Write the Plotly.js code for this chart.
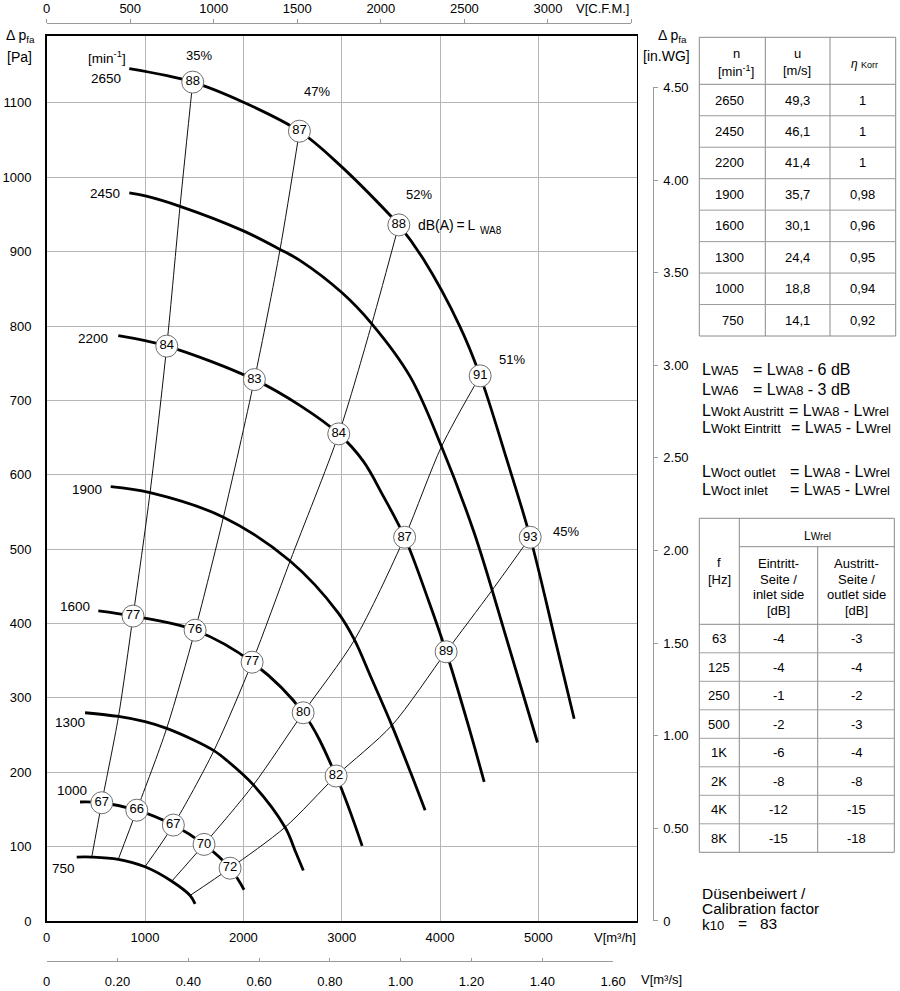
<!DOCTYPE html>
<html><head><meta charset="utf-8">
<script src="https://cdn.plot.ly/plotly-3.0.1.min.js"></script>
<style>html,body{margin:0;padding:0;background:#fff}#chart{width:900px;height:991px}</style>
</head><body><div id="chart"></div>
<script>
// ================= DATA =================
// Fan curves: volume flow V [m3/h] and pressure dp_fa [Pa] per speed n [min-1]
const speeds = ['2650','2450','2200','1900','1600','1300','1000','750'];
const v2650 = [840,1485,2000,2570,2984,3492,3581,3830,4200,4408,4680,4917,5171,5364];
const p2650 = [1146,1128,1101,1062,1016,949,936,890,800,733,620,516,378,272];
const v2450 = [840,1003,1356,2000,2373,2578,3001,3306,3696,4015,4347,4680,4991];
const p2450 = [979,975,961,928,903,888,845,803,732,638,522,378,240];
const v2200 = [728,1221,2112,2578,2970,3221,3420,3640,3880,4062,4290,4449];
const p2200 = [787,773,728,693,655,618,572,516,432,362,262,187];
const v1900 = [651,1051,1797,2475,2966,3130,3300,3510,3700,3848];
const p1900 = [584,576,543,484,414,378,327,263,200,149];
const v1600 = [525,878,1509,2089,2608,2943,3208];
const p1600 = [417,410,391,348,280,195,101];
const v1300 = [390,730,1000,1220,1500,1700,1831,2102,2424,2537,2610];
const p1300 = [280,275,268,259,243,229,216,183,126,91,68];
const v1000 = [339,560,916,1288,1600,1865,2007];
const p1000 = [160,159,149,129,103,71,42];
const v750  = [305,458,728,1000,1272,1458,1509];
const p750  = [86,86,83,73,53.5,34.3,23];

// Efficiency (system) lines
const effLabels = ['35%','47%','52%','51%','45%'];
const sys1V = [458,560,730,878,1051,1221,1356,1485];
const sys1P = [86,159,275,410,576,773,961,1128];
const sys2V = [728,916,1220,1509,1797,2112,2373,2570];
const sys2P = [83,149,259,391,543,728,903,1062];
const sys3V = [1000,1288,1700,2089,2475,2970,3306,3581];
const sys3P = [73,129,229,348,484,655,803,936];
const sys4V = [1272,1600,2102,2608,3130,3640,4015,4408];
const sys4P = [53.5,103,183,280,378,516,638,733];
const sys5V = [1458,1865,2424,2943,3510,4062,4525,4917];
const sys5P = [34.3,71,126,195,263,362,444,516];

// Sound power circles dB(A) = L_WA8
const circV  = [1485,2570,3581,4408,4917, 1221,2112,2970,3640,4062, 878,1509,2089,2608,2943, 560,916,1288,1600,1865];
const circP  = [1128,1062,936,733,516, 773,728,655,516,362, 410,391,348,280,195, 159,149,129,103,71];
const circDb = ['88','87','88','91','93','84','83','84','87','89','77','76','77','80','82','67','66','67','70','72'];

// Axis ticks
const vTicks = [0,1000,2000,3000,4000,5000];
const pTicks = [0,100,200,300,400,500,600,700,800,900,1000,1100];
const cfmTicks = [0,500,1000,1500,2000,2500,3000,3500];
const cfmText  = ['0','500','1000','1500','2000','2500','3000',' '];
const m3sTicks = [0,0.2,0.4,0.6,0.8,1.0,1.2,1.4,1.6];
const m3sText  = ['0','0.20','0.40','0.60','0.80','1.00','1.20','1.40','1.60'];
const inwgTicks = [0,0.5,1.0,1.5,2.0,2.5,3.0,3.5,4.0,4.5];
const inwgText  = ['0','0.50','1.00','1.50','2.00','2.50','3.00','3.50','4.00','4.50'];

// Tables
const tblN   = ['2650','2450','2200','1900','1600','1300','1000','750'];
const tblU   = ['49,3','46,1','41,4','35,7','30,1','24,4','18,8','14,1'];
const tblEta = ['1','1','1','0,98','0,96','0,95','0,94','0,92'];
const freqHz   = ['63','125','250','500','1K','2K','4K','8K'];
const lwInlet  = ['-4','-4','-1','-2','-6','-8','-12','-15'];
const lwOutlet = ['-3','-4','-2','-3','-4','-8','-15','-18'];
const calibK = '83';

// ================= LAYOUT HELPERS =================
const W = 900, H = 991;
const PX = x => x / W;
const PY = y => (H - y) / H;
const FONT = '"Liberation Sans", Arial, Helvetica, sans-serif';

const plotL = 46.7, plotR = 636.7, plotT = 36, plotB = 921;
const vMax = 6000, pMax = 1190;
const xDom = [PX(plotL), PX(plotR)];
const yDom = [PY(plotB), PY(plotT)];
const plotWfrac = xDom[1] - xDom[0];
const plotHfrac = yDom[1] - yDom[0];
// unit conversions for secondary axes
const CFM_PER_M3H = 0.588578;
const M3H_PER_M3S = 3600;
const PA_PER_INWG = 249.089;

const annotations = [];
function ann(text, x, y, size, xanchor, extra) {
  annotations.push(Object.assign({
    text: text, x: PX(x), y: PY(y), xref: 'paper', yref: 'paper',
    showarrow: false, xanchor: xanchor || 'center', yanchor: 'middle',
    font: {family: FONT, size: size, color: '#000'}
  }, extra || {}));
}
const shapes = [];
function hline(x0, x1, y, color) {
  shapes.push({type:'line', xref:'paper', yref:'paper', x0:PX(x0), x1:PX(x1), y0:PY(y), y1:PY(y),
    line:{color: color || '#8a8a8a', width:1}});
}
function vline(x, y0, y1, color) {
  shapes.push({type:'line', xref:'paper', yref:'paper', x0:PX(x), x1:PX(x), y0:PY(y0), y1:PY(y1),
    line:{color: color || '#8a8a8a', width:1}});
}

// ================= TRACES =================
const traces = [];
const sysSets = [[sys1V,sys1P],[sys2V,sys2P],[sys3V,sys3P],[sys4V,sys4P],[sys5V,sys5P]];
sysSets.forEach(s => traces.push({
  type:'scatter', mode:'lines', x:s[0], y:s[1],
  line:{color:'#111', width:1, shape:'spline', smoothing:0.8}, hoverinfo:'skip'
}));
const curveSets = [[v2650,p2650],[v2450,p2450],[v2200,p2200],[v1900,p1900],[v1600,p1600],[v1300,p1300],[v1000,p1000],[v750,p750]];
curveSets.forEach(c => traces.push({
  type:'scatter', mode:'lines', x:c[0], y:c[1],
  line:{color:'#000', width:2.8, shape:'spline', smoothing:1.0}, hoverinfo:'skip'
}));
traces.push({
  type:'scatter', mode:'markers+text', x:circV, y:circP, text:circDb,
  textposition:'middle center', textfont:{family:FONT, size:13, color:'#000'},
  marker:{size:22, color:'#fff', line:{color:'#6e6e6e', width:1}}, cliponaxis:false, hoverinfo:'skip'
});
// empty traces so the secondary axes exist
traces.push({type:'scatter', x:[], y:[], xaxis:'x2', yaxis:'y4', hoverinfo:'skip'});
traces.push({type:'scatter', x:[], y:[], xaxis:'x3', yaxis:'y4', hoverinfo:'skip'});
traces.push({type:'scatter', x:[], y:[], xaxis:'x4', yaxis:'y2', hoverinfo:'skip'});

// ================= TEXT IN CHART =================
const speedLabelPos = [[106,78],[105,193],[93,338],[87,490],[75,606],[70,723],[72,790],[63,868]];
speeds.forEach((s,i) => ann(s, speedLabelPos[i][0], speedLabelPos[i][1], 13.5));
ann('[min<sup>-1</sup>]', 107, 57, 13.5);
const effPos = [[199,55],[317,91],[419,194],[512,359],[566,531]];
effLabels.forEach((t,i) => ann(t, effPos[i][0], effPos[i][1], 13));
ann('dB(A)\u2009=\u2009L', 416, 225, 14, 'left');
ann('WA8', 478, 231, 10, 'left');

// axis titles
ann('\u0394 p<sub>fa</sub>', 20, 36, 14);
ann('[Pa]', 19, 57, 14);
ann('\u0394 p<sub>fa</sub>', 672, 36, 14);
ann('[in.WG]', 666, 56, 14);
ann('V[C.F.M.]', 631, 9, 13, 'right');
ann('V[m\u00B3/h]', 638, 937, 13, 'right');
ann('V[m\u00B3/s]', 639, 979, 13, 'left');

// ================= TABLE 1 =================
const t1L = 699.3, t1R = 895.7, t1T = 37.3, t1HB = 84.3, t1B = 336;
const t1c1 = 765.3, t1c2 = 830;
const t1Row = (t1B - t1HB) / 8;
hline(t1L, t1R, t1T); hline(t1L, t1R, t1B); hline(t1L, t1R, t1HB);
vline(t1L, t1T, t1B); vline(t1R, t1T, t1B); vline(t1c1, t1T, t1B); vline(t1c2, t1T, t1B);
for (let i = 1; i < 8; i++) hline(t1L, t1R, t1HB + i * t1Row, '#9a9a9a');
ann('n', 736, 54, 13); ann('[min<sup>-1</sup>]', 736, 71, 13);
ann('u', 797, 54, 13); ann('[m/s]', 797, 71, 13);
ann('<i>\u03B7</i> <span style="font-size:9px">Korr</span>', 864, 64, 12);
tblN.forEach((t,i) => {
  const yc = t1HB + (i + 0.5) * t1Row;
  ann(t, 746, yc, 13, 'right');
  ann(tblU[i], 797, yc, 13);
  ann(tblEta[i], 862, yc, 13);
});

// ================= FORMULAS =================
const sm = s => '<span style="font-size:13px">' + s + '</span>';
const NB = '\u00A0';
ann('L' + sm('WA5'), 700, 370, 16, 'left');
ann('=' + NB + 'L' + sm('WA8') + NB + '-' + NB + '6 dB', 751, 370, 16, 'left');
ann('L' + sm('WA6'), 700, 389, 16, 'left');
ann('=' + NB + 'L' + sm('WA8') + NB + '-' + NB + '3 dB', 751, 389, 16, 'left');
ann('L' + sm('Wokt Austritt'), 700, 410, 16, 'left');
ann('=' + NB + 'L' + sm('WA8') + NB + '-' + NB + 'L' + sm('Wrel'), 787, 410, 16, 'left');
ann('L' + sm('Wokt Eintritt'), 700, 428, 16, 'left');
ann('=' + NB + 'L' + sm('WA5') + NB + '-' + NB + 'L' + sm('Wrel'), 789, 428, 16, 'left');
ann('L' + sm('Woct outlet'), 700, 471, 16, 'left');
ann('=' + NB + 'L' + sm('WA8') + NB + '-' + NB + 'L' + sm('Wrel'), 788, 471, 16, 'left');
ann('L' + sm('Woct inlet'), 700, 490, 16, 'left');
ann('=' + NB + 'L' + sm('WA5') + NB + '-' + NB + 'L' + sm('Wrel'), 788, 490, 16, 'left');

// ================= TABLE 2 =================
const t2L = 699.3, t2R = 894.3, t2T = 518.3, t2B = 852.3, t2c1 = 739.3, t2c2 = 817.7, t2H1 = 546.7, t2HB = 624.3;
const t2Row = (t2B - t2HB) / 8;
hline(t2L, t2R, t2T); hline(t2L, t2R, t2B); hline(t2L, t2R, t2HB); hline(t2c1, t2R, t2H1);
vline(t2L, t2T, t2B); vline(t2R, t2T, t2B); vline(t2c1, t2T, t2B); vline(t2c2, t2H1, t2B);
for (let i = 1; i < 8; i++) hline(t2L, t2R, t2HB + i * t2Row, '#a0a0a0');
ann('L<span style="font-size:10px">Wrel</span>', 817, 536, 12);
ann('f', 719, 562, 13); ann('[Hz]', 719, 579, 13);
ann('Eintritt-', 778.5, 563, 13); ann('Seite /', 778.5, 579, 13); ann('inlet side', 778.5, 594.5, 13); ann('[dB]', 778.5, 610, 13);
ann('Austritt-', 856, 563, 13); ann('Seite /', 856, 579, 13); ann('outlet side', 856, 594.5, 13); ann('[dB]', 856, 610, 13);
freqHz.forEach((f,i) => {
  const yc = t2HB + (i + 0.5) * t2Row;
  ann(f, 719.3, yc, 13);
  ann(lwInlet[i], 778.5, yc, 13);
  ann(lwOutlet[i], 856.5, yc, 13);
});

// ================= CALIBRATION =================
ann('D\u00FCsenbeiwert /', 700, 893, 15.5, 'left');
ann('Calibration factor', 700, 908.5, 15.5, 'left');
ann('k' + sm('10'), 700, 924, 15.5, 'left');
ann('=', 736, 923, 15.5, 'left');
ann(calibK, 758, 923, 15.5, 'left');

// ================= AXES =================
const tickFont = {family: FONT, size: 13, color: '#000'};
const layout = {
  width: W, height: H,
  margin: {l:0, r:0, t:0, b:0, pad:0},
  paper_bgcolor: '#fff', plot_bgcolor: 'rgba(0,0,0,0)',
  showlegend: false,
  font: {family: FONT, size: 13, color: '#000'},
  xaxis: {
    domain: xDom, range: [0, vMax], anchor: 'y',
    tickmode: 'array', tickvals: vTicks, ticktext: vTicks.map(String),
    showgrid: true, gridcolor: '#b5b5b5', gridwidth: 1, zeroline: false,
    showline: true, linecolor: '#000', linewidth: 1.6, mirror: true,
    ticks: '', ticklabelstandoff: 4, tickfont: tickFont, fixedrange: true
  },
  yaxis: {
    domain: yDom, range: [0, pMax], anchor: 'x',
    tickmode: 'array', tickvals: pTicks, ticktext: pTicks.map(String),
    showgrid: true, gridcolor: '#b5b5b5', gridwidth: 1, zeroline: false,
    showline: true, linecolor: '#000', linewidth: 1.6, mirror: true,
    ticks: '', ticklabelstandoff: 11, tickfont: tickFont, fixedrange: true
  },
  xaxis2: {
    domain: [xDom[0], xDom[0] + plotWfrac * (3500 / CFM_PER_M3H) / vMax],
    range: [0, 3500], anchor: 'free', position: PY(23.3), side: 'top',
    tickmode: 'array', tickvals: cfmTicks, ticktext: cfmText,
    showgrid: false, zeroline: false, showline: true, linecolor: '#9a9a9a', linewidth: 1,
    ticks: 'outside', ticklen: 4, tickcolor: '#9a9a9a', tickwidth: 1,
    ticklabelstandoff: 1, tickfont: tickFont, fixedrange: true
  },
  xaxis3: {
    domain: [xDom[0], xDom[0] + plotWfrac * (1.6 * M3H_PER_M3S) / vMax],
    range: [0, 1.6], anchor: 'free', position: PY(961), side: 'bottom',
    tickmode: 'array', tickvals: m3sTicks, ticktext: m3sText,
    showgrid: false, zeroline: false, showline: true, linecolor: '#9a9a9a', linewidth: 1,
    ticks: 'inside', ticklen: 3, tickcolor: '#9a9a9a', tickwidth: 1,
    ticklabelstandoff: 8, tickfont: tickFont, fixedrange: true
  },
  yaxis2: {
    domain: [yDom[0], yDom[0] + plotHfrac * (4.5 * PA_PER_INWG) / pMax],
    range: [0, 4.5], anchor: 'free', position: PX(652.7), side: 'right',
    tickmode: 'array', tickvals: inwgTicks, ticktext: inwgText,
    showgrid: false, zeroline: false, showline: true, linecolor: '#9a9a9a', linewidth: 1,
    ticks: 'outside', ticklen: 4, tickcolor: '#9a9a9a', tickwidth: 1,
    ticklabelstandoff: 3, tickfont: tickFont, fixedrange: true
  },
  xaxis4: {visible:false, domain:[PX(648), PX(650)], range:[0,1], anchor:'free', position:0, fixedrange:true},
  yaxis4: {visible:false, domain:[PY(20), PY(18)], range:[0,1], anchor:'free', position:0, fixedrange:true},
  annotations: annotations,
  shapes: shapes
};

Plotly.newPlot('chart', traces, layout, {displayModeBar:false, staticPlot:true});
</script></body></html>
